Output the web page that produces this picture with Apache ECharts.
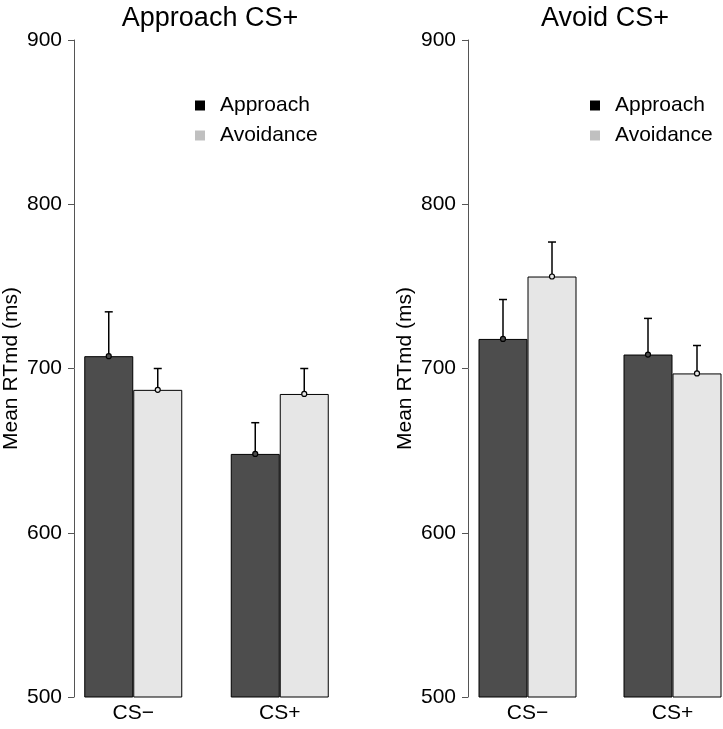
<!DOCTYPE html>
<html>
<head>
<meta charset="utf-8">
<script src="https://cdn.jsdelivr.net/npm/echarts@6/dist/echarts.min.js"></script>
<style>html,body{margin:0;padding:0;background:#fff;}#c{width:723px;height:729px;}</style>
</head>
<body>
<div id="c"></div>
<script>
const categories = ['CS−', 'CS+'];
const panelTitles = ['Approach CS+', 'Avoid CS+'];
const seriesNames = ['Approach', 'Avoidance'];
const yTicks = [500, 600, 700, 800, 900];
// per panel: [CS−, CS+]
const approachMeans = [[707.5, 648], [718, 708.5]];
const approachUpper = [[734.5, 667], [742, 730.5]];
const avoidMeans = [[687, 684.5], [756, 697]];
const avoidUpper = [[700, 700], [777, 714]];

const FONT = 'Liberation Sans, Arial, Helvetica, sans-serif';
const barColors = ['#4d4d4d', '#e6e6e6'];
const legendColors = ['#000000', '#c0c0c0'];
const BW = 49;

const gridLefts = [60, 455];
const gridWidths = [293, 290];
const axisOffsets = [-14, -13];
const titleCenters = [205, 600];
const legendLefts = [190, 585];

function errSeries(panel, name, means, upper, off, color) {
  return {
    type: 'custom', name: name, xAxisIndex: panel, yAxisIndex: panel, z: 5,
    data: categories.map((c, i) => [i, means[panel][i], upper[panel][i]]),
    renderItem: function (params, api) {
      const ci = api.value(0), m = api.value(1), u = api.value(2);
      const pm = api.coord([ci, m]);
      const pu = api.coord([ci, u]);
      const x = pm[0] + off;
      const st = { stroke: '#000', lineWidth: 1.5 };
      return {
        type: 'group', children: [
          { type: 'line', shape: { x1: x, y1: pm[1], x2: x, y2: pu[1] }, style: st },
          { type: 'line', shape: { x1: x - 4, y1: pu[1], x2: x + 4, y2: pu[1] }, style: st },
          { type: 'circle', shape: { cx: x, cy: pm[1], r: 2.5 }, style: { fill: color, stroke: '#000', lineWidth: 1.2 } }
        ]
      };
    }
  };
}

const grids = [], xAxes = [], yAxes = [], series = [], titles = [], legends = [];
for (let p = 0; p < 2; p++) {
  grids.push({ left: gridLefts[p], width: gridWidths[p], top: 40, height: 657, outerBoundsMode: 'none', containLabel: false });
  xAxes.push({
    type: 'category', gridIndex: p, data: categories,
    axisLine: { show: false }, axisTick: { show: false },
    axisLabel: { fontFamily: FONT, fontSize: 21, color: '#000', margin: 6 }
  });
  yAxes.push({
    type: 'value', gridIndex: p, min: yTicks[0], max: yTicks[yTicks.length - 1], interval: 100,
    offset: axisOffsets[p],
    name: 'Mean RTmd (ms)', nameLocation: 'middle', nameGap: 52,
    nameTextStyle: { fontFamily: FONT, fontSize: 21, color: '#000' },
    axisLine: { show: true, lineStyle: { color: '#555', width: 1 } },
    axisTick: { show: true, length: 6, lineStyle: { color: '#555', width: 1 } },
    splitLine: { show: false },
    axisLabel: { fontFamily: FONT, fontSize: 21, color: '#000', margin: 12 }
  });
  series.push({
    type: 'bar', name: seriesNames[0], xAxisIndex: p, yAxisIndex: p, barWidth: BW, barGap: '0%',
    data: approachMeans[p], itemStyle: { color: barColors[0], borderColor: '#000', borderWidth: 1 }
  });
  series.push({
    type: 'bar', name: seriesNames[1], xAxisIndex: p, yAxisIndex: p, barWidth: BW, barGap: '0%',
    data: avoidMeans[p], itemStyle: { color: barColors[1], borderColor: '#000', borderWidth: 1 }
  });
  series.push(errSeries(p, seriesNames[0], approachMeans, approachUpper, -BW / 2, barColors[0]));
  series.push(errSeries(p, seriesNames[1], avoidMeans, avoidUpper, BW / 2, barColors[1]));
  titles.push({
    text: panelTitles[p], left: titleCenters[p], textAlign: 'center', top: 0,
    textStyle: { fontFamily: FONT, fontSize: 27, fontWeight: 'normal', color: '#000' }
  });
  legends.push({
    orient: 'vertical', left: legendLefts[p], top: 90, itemWidth: 10, itemHeight: 10, itemGap: 9,
    icon: 'rect', selectedMode: false,
    textStyle: { fontFamily: FONT, fontSize: 21, color: '#000', padding: [0, 0, 0, 10] },
    data: seriesNames.map((n, i) => ({ name: n, itemStyle: { color: legendColors[i], borderWidth: 0 } }))
  });
}

const chart = echarts.init(document.getElementById('c'), null, { renderer: 'canvas' });
chart.setOption({
  animation: false,
  backgroundColor: '#fff',
  title: titles, legend: legends, grid: grids, xAxis: xAxes, yAxis: yAxes, series: series
});
</script>
</body>
</html>
